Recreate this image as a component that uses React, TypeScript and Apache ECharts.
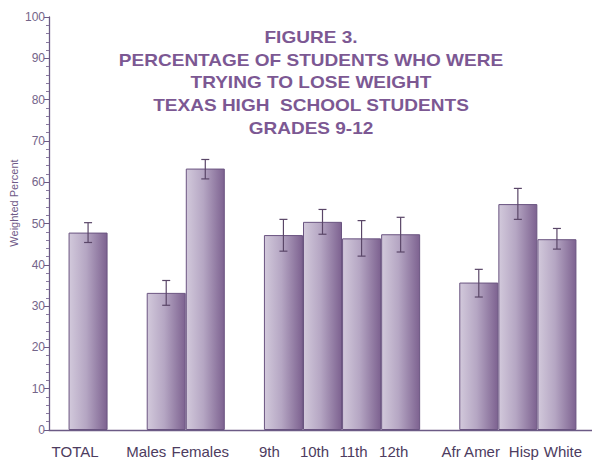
import React, { useEffect, useRef } from "react";
import * as echarts from "echarts";

const categories = ["", "TOTAL", "", "Males", "Females", "", "9th", "10th", "11th", "12th", "", "Afr Amer", "Hisp", "White", ""];
const values: (number | string)[] = ["-", 47.8, "-", 33.2, 63.3, "-", 47.2, 50.4, 46.4, 47.4, "-", 35.7, 54.7, 46.2, "-"];
const lowerCI: (number | null)[] = [null, 45.4, null, 30.2, 60.8, null, 43.3, 47.4, 42.1, 43.1, null, 32.2, 51.0, 43.8, null];
const upperCI: (number | null)[] = [null, 50.2, null, 36.2, 65.5, null, 51.0, 53.4, 50.7, 51.5, null, 38.9, 58.5, 48.8, null];
const titleLines = [
  "FIGURE 3.",
  "PERCENTAGE OF STUDENTS WHO WERE",
  "TRYING TO LOSE WEIGHT",
  "TEXAS HIGH  SCHOOL STUDENTS",
  "GRADES 9-12",
];
// per-label horizontal shift (px) of the axis labels relative to the bar centre
const labelShift = [0, -13, 0, -20, -5, 0, -14, -8, -8, -7, 0, -8, 6, 6, 0];

export default function App() {
  const ref = useRef<HTMLDivElement>(null);
  useEffect(() => {
    document.body.style.margin = "0";
    const chart = echarts.init(ref.current!, null, { renderer: "svg" });
    const rich: Record<string, any> = {};
    labelShift.forEach((s, i) => {
      rich["l" + i] = {
        fontSize: 15,
        color: "#4d3c60",
        fontFamily: "Liberation Sans, Arial, sans-serif",
        padding: s < 0 ? [0, -2 * s, 0, 0] : [0, 0, 0, 2 * s],
      };
    });
    const errData = categories.map((_, i) => [i, lowerCI[i], upperCI[i]]).filter((d) => d[1] != null);
    chart.setOption({
      animation: false,
      backgroundColor: "#ffffff",
      grid: { left: 49, right: -4, top: 17, bottom: 34, outerBoundsMode: "none" },
      xAxis: {
        type: "category",
        data: categories,
        boundaryGap: false,
        axisLine: { lineStyle: { color: "#6b5a85", width: 1.3 } },
        axisTick: { show: false },
        axisLabel: {
          interval: 0,
          margin: 14,
          formatter: (v: string, i: number) => (v ? `{l${i}|${v}}` : ""),
          rich,
        },
        splitLine: { show: false },
      },
      yAxis: {
        type: "value",
        min: 0,
        max: 100,
        interval: 10,
        axisLine: { show: true, lineStyle: { color: "#6b5a85", width: 1.3 } },
        axisTick: { show: true, inside: false, length: 5, lineStyle: { color: "#6b5a85" } },
        minorTick: { show: true, splitNumber: 5, length: 3, lineStyle: { color: "#8a7aa0" } },
        axisLabel: { fontSize: 12, color: "#74658a", margin: 4, fontFamily: "Liberation Sans, Arial, sans-serif" },
        splitLine: { show: false },
      },
      graphic: [
        {
          type: "text",
          x: 311,
          y: 26,
          scaleX: 1.12,
          style: {
            text: titleLines.join("\n"),
            textAlign: "center",
            textVerticalAlign: "top",
            fontSize: 17,
            fontWeight: "bold",
            fontFamily: "Liberation Sans, Arial, sans-serif",
            lineHeight: 22.7,
            fill: "#7c5893",
          },
        },
        {
          type: "text",
          x: 14,
          y: 203,
          rotation: Math.PI / 2,
          style: {
            text: "Weighted Percent",
            textAlign: "center",
            textVerticalAlign: "middle",
            fontSize: 11,
            fontFamily: "Liberation Sans, Arial, sans-serif",
            fill: "#6f5a88",
          },
        },
      ],
      series: [
        {
          type: "bar",
          data: values,
          barWidth: 39,
          itemStyle: {
            color: new echarts.graphic.LinearGradient(0, 0, 1, 0, [
              { offset: 0, color: "#d2c9db" },
              { offset: 0.45, color: "#b5a6c3" },
              { offset: 1, color: "#7d6290" },
            ]),
            borderColor: "#6a5480",
            borderWidth: 1,
          },
        },
        {
          type: "custom",
          data: errData,
          z: 5,
          renderItem: (params: any, api: any) => {
            const x = api.value(0);
            const lo = api.coord([x, api.value(1)]);
            const hi = api.coord([x, api.value(2)]);
            const w = 4;
            const style = { stroke: "#5a4668", lineWidth: 1.2 };
            return {
              type: "group",
              children: [
                { type: "line", shape: { x1: lo[0], y1: lo[1], x2: hi[0], y2: hi[1] }, style },
                { type: "line", shape: { x1: hi[0] - w, y1: hi[1], x2: hi[0] + w, y2: hi[1] }, style },
                { type: "line", shape: { x1: lo[0] - w, y1: lo[1], x2: lo[0] + w, y2: lo[1] }, style },
              ],
            };
          },
        },
      ],
    });
    return () => chart.dispose();
  }, []);
  return <div ref={ref} style={{ width: 592, height: 464 }} />;
}
